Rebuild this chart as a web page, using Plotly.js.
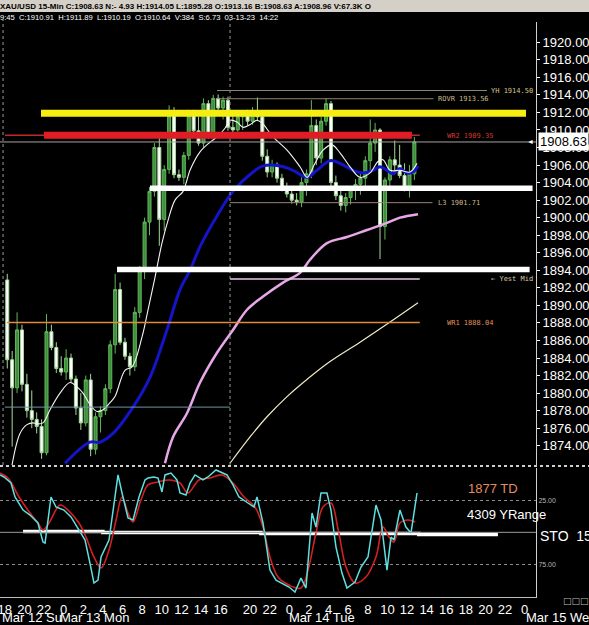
<!DOCTYPE html>
<html><head><meta charset="utf-8">
<script src="https://cdn.plot.ly/plotly-3.0.1.min.js"></script>
<style>html,body{margin:0;padding:0;background:#000;}#chart{width:589px;height:625px;}</style>
</head><body><div id="chart"></div>
<script>
// ---- candles: hours of trading time since Sun 18:00 (30-min bars)
const barHour = [0.25,0.75,1.25,1.75,2.25,2.75,3.25,3.75,4.25,4.75,5.25,5.75,6.25,6.75,7.25,7.75,8.25,8.75,9.25,9.75,10.25,10.75,11.25,11.75,12.25,12.75,13.25,13.75,14.25,14.75,15.25,15.75,16.25,16.75,17.25,17.75,18.25,18.75,19.25,19.75,20.25,20.75,21.25,21.75,22.25,22.75,23.25,23.75,24.25,24.75,25.25,25.75,26.25,26.75,27.25,27.75,28.25,28.75,29.25,29.75,30.25,30.75,31.25,31.75,32.25,32.75,33.25,33.75,34.25,34.75,35.25,35.75,36.25,36.75,37.25,37.75,38.25,38.75,39.25,39.75,40.25,40.75,41.25,41.75];
const openP = [1892.9,1883.8,1880.6,1887.2,1881.0,1878.0,1877.0,1876.2,1873.2,1887.0,1885.2,1882.8,1882.4,1884.0,1881.6,1878.3,1876.6,1881.5,1873.6,1877.3,1878.0,1880.5,1885.5,1891.8,1885.8,1884.2,1883.0,1889.2,1894.0,1899.5,1903.0,1908.0,1899.8,1905.5,1911.6,1904.9,1904.6,1907.1,1911.6,1909.9,1908.5,1913.0,1909.4,1913.6,1912.5,1913.4,1910.3,1910.0,1911.5,1911.8,1911.0,1912.2,1911.5,1907.0,1905.2,1906.0,1904.5,1903.4,1902.7,1902.0,1901.8,1904.0,1905.0,1910.5,1906.8,1911.0,1913.0,1904.0,1902.5,1901.4,1902.3,1903.2,1903.8,1904.5,1906.5,1908.5,1910.0,1899.0,1904.3,1906.6,1906.0,1904.8,1903.5,1905.0];
const highP = [1893.6,1884.8,1889.2,1887.8,1882.2,1880.3,1877.8,1877.0,1889.0,1887.8,1885.8,1884.2,1885.0,1884.5,1882.0,1880.0,1882.0,1882.2,1877.8,1878.5,1881.0,1886.0,1893.6,1892.6,1886.3,1884.6,1889.8,1894.5,1900.0,1903.5,1908.5,1909.5,1906.0,1912.8,1912.6,1905.5,1907.5,1912.3,1912.3,1911.5,1913.6,1913.4,1914.0,1914.05,1913.8,1913.8,1911.8,1912.0,1912.2,1912.3,1912.6,1913.7,1912.2,1907.8,1906.6,1906.3,1905.0,1904.0,1903.5,1902.8,1904.6,1905.5,1913.4,1911.2,1911.5,1913.6,1913.3,1904.8,1903.3,1902.8,1903.6,1904.4,1905.0,1907.0,1911.2,1910.8,1910.2,1904.6,1907.0,1908.8,1908.3,1906.2,1906.0,1909.2];
const lowP = [1882.8,1873.9,1880.0,1880.2,1877.2,1876.0,1875.4,1872.5,1872.9,1884.9,1882.3,1882.0,1881.5,1881.2,1877.5,1875.8,1876.2,1872.8,1873.0,1875.5,1877.5,1880.0,1884.5,1885.5,1883.8,1882.0,1882.5,1888.6,1893.0,1898.0,1902.4,1896.8,1898.5,1905.0,1904.5,1904.2,1903.8,1906.6,1909.6,1908.2,1908.0,1909.0,1909.0,1912.2,1911.2,1909.9,1909.6,1909.8,1910.0,1910.5,1910.6,1911.0,1906.5,1904.6,1904.6,1904.0,1903.0,1902.3,1901.6,1901.4,1901.2,1902.5,1904.5,1906.0,1906.2,1910.5,1903.5,1902.0,1900.8,1900.6,1901.5,1902.0,1902.6,1903.5,1905.4,1907.5,1895.28,1897.5,1903.5,1905.2,1904.5,1903.0,1902.3,1904.3];
const closeP = [1883.8,1880.6,1887.2,1881.0,1878.0,1877.0,1876.2,1873.2,1887.0,1885.2,1882.8,1882.4,1884.0,1881.6,1878.3,1876.6,1881.5,1873.6,1877.3,1878.0,1880.5,1885.5,1891.8,1885.8,1884.2,1883.0,1889.2,1894.0,1899.5,1903.0,1908.0,1899.8,1905.5,1911.6,1904.9,1904.6,1907.1,1911.6,1909.9,1908.5,1913.0,1909.4,1913.6,1912.5,1913.4,1910.3,1910.0,1911.5,1911.8,1911.0,1912.2,1911.5,1907.0,1905.2,1906.0,1904.5,1903.4,1902.7,1902.0,1901.8,1904.0,1905.0,1910.5,1906.8,1911.0,1913.0,1904.0,1902.5,1901.4,1902.3,1903.2,1903.8,1904.5,1906.5,1908.5,1910.0,1899.0,1904.3,1906.6,1906.0,1904.8,1903.5,1905.0,1908.63];

// ---- moving averages
const ma1H = [0.72,1.55,2.26,2.87,3.28,3.89,4.61,5.63,6.65,7.36,7.97,8.68,9.40,10.01,10.72,11.23,12.25,12.97,13.99,14.60,15.31,16.02,16.64,17.35,18.17,18.57,18.88,19.90,20.92,21.63,22.45,22.96,23.67,24.28,24.99,25.70,26.22,27.34,28.77,30.09,30.81,31.62,32.44,33.35,34.17,35.19,36.21,37.23,38.04,38.55,39.27,40.28,41.30,42.02];
const ma1P = [1871.7,1875.4,1876.4,1876.6,1876.5,1876.6,1878.1,1880.0,1881.2,1880.7,1880.0,1878.7,1877.9,1878.1,1878.9,1879.6,1882.6,1883.0,1886.4,1889.5,1893.2,1897.1,1899.7,1902.0,1903.0,1904.3,1905.4,1907.5,1908.6,1909.2,1910.2,1911.1,1910.9,1910.3,1910.6,1911.1,1910.8,1909.2,1907.7,1905.8,1904.6,1906.2,1907.7,1908.3,1907.4,1905.8,1904.6,1905.1,1906.4,1906.6,1905.4,1905.4,1905.2,1906.2];
const ma2H = [6.14,8.68,9.70,11.03,13.07,14.80,16.53,17.86,18.88,19.90,21.63,23.26,25.30,26.32,28.05,29.38,30.81,31.82,33.15,34.17,35.49,36.51,37.53,38.25,38.96,39.57,40.28,41.00,41.61,42.12];
const ma2P = [1872.0,1874.4,1874.4,1875.4,1878.4,1881.8,1887.2,1891.8,1894.0,1896.7,1900.2,1903.0,1905.2,1905.9,1905.9,1905.4,1904.6,1905.4,1906.5,1906.2,1905.4,1905.1,1905.4,1905.8,1905.4,1905.0,1905.6,1905.1,1905.2,1905.9];
const ma3H = [16.33,17.15,18.57,19.90,21.63,23.26,24.69,26.32,28.36,30.09,31.11,32.84,34.88,36.92,38.96,40.28,42.12];
const ma3P = [1872.0,1875.0,1877.7,1881.2,1884.6,1887.2,1889.5,1891.0,1892.6,1893.7,1895.2,1897.1,1897.8,1898.6,1899.4,1900.0,1900.4];
const ma4H = [22.96,25.00,26.73,28.77,30.09,33.15,36.21,39.27,42.12];
const ma4P = [1872.0,1875.0,1877.3,1879.6,1880.9,1883.6,1885.8,1888.1,1890.3];

// ---- stochastic (%K cyan, %D red)
const stoKH = [-0.49,-0.08,0.63,1.04,1.86,2.57,3.38,3.89,4.10,4.51,4.71,5.22,6.03,6.75,7.56,8.18,8.68,9.09,9.50,9.81,10.62,11.03,11.54,11.95,12.56,13.07,13.68,14.29,14.60,15.21,15.62,16.02,16.33,16.94,17.55,17.86,18.47,18.88,19.39,20.20,20.71,21.53,22.14,22.65,23.26,23.87,24.79,25.40,25.71,26.32,26.73,27.03,27.65,28.26,28.97,29.58,30.19,30.70,31.32,31.72,32.23,32.84,33.25,33.76,34.37,34.88,35.70,36.31,37.02,37.84,38.35,38.96,39.37,39.67,40.28,40.89,41.41,42.02];
const stoKV = [5.2,6.8,11.5,22.4,32.6,36.5,42.7,57.6,58.4,34.9,22.4,30.2,32.6,38.0,48.2,56.0,74.0,89.6,87.3,69.3,56.0,32.6,5.2,19.3,38.8,40.4,22.4,9.1,7.6,6.8,7.6,18.5,5.2,3.7,9.1,19.3,20.9,11.5,5.2,9.1,6.8,1.3,3.7,5.2,13.0,22.4,27.1,30.2,22.4,42.7,63.8,79.5,87.3,89.6,92.7,96.6,85.7,93.5,34.9,45.9,19.3,19.3,32.6,61.5,81.8,93.5,88.8,77.1,69.3,28.7,40.4,79.5,53.7,56.0,32.6,45.9,50.5,19.3];
const stoDH = [-0.49,0.33,1.45,2.57,3.38,3.89,4.51,5.63,6.44,7.56,8.28,9.09,9.81,10.62,11.34,11.95,12.56,13.07,13.88,14.60,15.62,16.74,17.86,18.67,19.79,20.92,22.14,23.26,24.38,25.50,26.32,27.03,27.85,28.97,30.19,30.91,31.72,32.44,33.25,33.99,34.78,35.70,36.82,37.84,38.55,39.16,39.67,40.28,41.10,41.82];
const stoDV = [3.7,7.6,22.4,34.9,42.7,48.2,42.7,28.7,32.6,42.7,53.7,69.3,77.9,63.8,40.4,22.4,34.9,41.9,24.8,13.0,10.7,9.1,11.5,19.3,9.1,7.6,5.2,11.5,22.4,30.2,45.9,69.3,84.9,91.2,93.5,79.5,50.5,30.2,27.1,48.2,77.1,89.6,84.9,69.3,45.9,53.7,57.6,42.7,40.4,41.9];
const stoRefH = [1.86,10.0,26.1,42.2,50.27];
const stoRefV = [49.4,50.2,51.0,51.6,51.6];

// ---- price levels
const bandNames = ['yellow','redThick','white1','white2'];
const bandPrice = [1911.9,1909.4,1903.35,1894.1];
const bandStart = [3.69,4.0,14.8,11.44];
const bandEnd = [53.13,41.5,53.8,53.5];
const levelNames = ['YH','ROVR','L3','YestMid','WR1','teal','WR2thin','last'];
const levelPrice = [1914.5,1913.56,1901.71,1893.0,1888.04,1878.4,1909.4,1908.63];
const levelStart = [21.63,21.63,22.96,22.96,0.22,0.0,0.02,-0.49];
const levelEnd = [49.15,43.7,43.6,42.3,42.3,22.96,42.3,54.15];
const tagText = ['YH 1914.50','ROVR 1913.56','WR2 1909.35','L3 1901.71','\u2190 Yest Mid','WR1 1888.04'];
const tagPrice = [1914.5,1913.56,1909.35,1901.71,1893.0,1888.04];
const tagHour = [49.36,43.95,44.87,43.95,49.36,44.87];
const sessionHours = [-0.18,22.96];

// ---- axis labels
const priceTicks = [1874,1876,1878,1880,1882,1884,1886,1888,1890,1892,1894,1896,1898,1900,1902,1904,1906,1908,1910,1912,1914,1916,1918,1920];
const tickHours = [0,2,4,6,8,10,12,14,16,18,20,22,25,27,29,31,33,35,37,39,41,43,45,47,49,51,53];
const tickText = ['18','20','22','0','2','4','6','8','10','12','14','16','20','22','0','2','4','6','8','10','12','14','16','18','20','22','0'];
const dayLabels = ['Mar 12 Su','Mar 13 Mon','Mar 14 Tue','Mar 15 Wed'];
const dayHours = [-0.49,5.42,28.8,52.9];
const headerLine1 = 'XAU/USD 15-Min C:1908.63 N:- 4.93 H:1914.05 L:1895.28 O:1913.16 B:1908.63 A:1908.96 V:67.3K O';
const headerLine2 = '9:45  C:1910.91  H:1911.89  L:1910.19  O:1910.64  V:384  S:6.73  03-13-23  14:22';
const lastPrice = 1908.63;

// ---- geometry helpers (pixel -> paper)
const PLOT_TOP = 22, PLOT_BOT = 597, PLOT_W = 536;
const py = y => (PLOT_BOT - y) / (PLOT_BOT - PLOT_TOP);
const px = x => x / PLOT_W;
const FONT = 'Liberation Sans, Arial, sans-serif';

const traces = [];
traces.push({type:'candlestick', x:barHour, open:openP, high:highP, low:lowP, close:closeP,
  xaxis:'x', yaxis:'y', whiskerwidth:0, hoverinfo:'skip',
  increasing:{line:{color:'#62b85a', width:1}, fillcolor:'#3d8e3a'},
  decreasing:{line:{color:'#a6d89c', width:1}, fillcolor:'#ffffff'}});
traces.push({type:'scatter', mode:'lines', x:ma4H, y:ma4P, xaxis:'x', yaxis:'y', line:{color:'#f2ecc4', width:1.2, shape:'spline'}});
traces.push({type:'scatter', mode:'lines', x:ma3H, y:ma3P, xaxis:'x', yaxis:'y', line:{color:'#e8a8e8', width:2.5, shape:'spline'}});
traces.push({type:'scatter', mode:'lines', x:ma2H, y:ma2P, xaxis:'x', yaxis:'y', line:{color:'#1414c8', width:3, shape:'spline'}});
traces.push({type:'scatter', mode:'lines', x:ma1H, y:ma1P, xaxis:'x', yaxis:'y', line:{color:'#f4f4f4', width:1.1, shape:'spline'}});
// stochastic
traces.push({type:'scatter', mode:'lines', x:stoRefH, y:stoRefV, xaxis:'x', yaxis:'y2', line:{color:'#ffffff', width:3.5, shape:'hv'}});
traces.push({type:'scatter', mode:'lines', x:stoDH, y:stoDV, xaxis:'x', yaxis:'y2', line:{color:'#d42020', width:1.6, shape:'spline'}});
traces.push({type:'scatter', mode:'lines', x:stoKH, y:stoKV, xaxis:'x', yaxis:'y2', line:{color:'#5fe0e0', width:1.5}});

const shapes = [];
shapes.push({type:'rect', xref:'paper', yref:'paper', x0:-0.01, x1:1.2, y0:py(12), y1:py(-2), fillcolor:'#d4d0c8', line:{width:0}, layer:'above'});
shapes.push({type:'line', xref:'paper', yref:'paper', x0:0, x1:1.2, y0:py(466), y1:py(466), line:{color:'#cfcfcf', width:2, dash:'dot'}});
shapes.push({type:'line', xref:'paper', yref:'y2', x0:0, x1:1, y0:50, y1:50, line:{color:'#9a9a9a', width:1}});
sessionHours.forEach(h => shapes.push({type:'line', xref:'x', yref:'paper', x0:h, x1:h, y0:py(465), y1:py(20), line:{color:'#9a9a9a', width:1, dash:'dot'}}));
const levelColor = {YH:'#8e8474', ROVR:'#8e8474', L3:'#9a8478', YestMid:'#e8c6e8', WR1:'#e08a40', teal:'#6c96a6', WR2thin:'#c02828', last:'#a8a4a0'};
levelNames.forEach((n,i) => shapes.push({type:'line', xref:'x', yref:'y', x0:levelStart[i], x1:levelEnd[i], y0:levelPrice[i], y1:levelPrice[i],
  line:{color:levelColor[n], width:(n==='WR1'||n==='YestMid'||n==='WR2thin')?1.6:1}}));
const bandColor = {yellow:'#f5ee10', redThick:'#e01c24', white1:'#ffffff', white2:'#ffffff'};
const bandWidth = {yellow:7, redThick:7, white1:5.5, white2:5.5};
bandNames.forEach((n,i) => shapes.push({type:'line', xref:'x', yref:'y', x0:bandStart[i], x1:bandEnd[i], y0:bandPrice[i], y1:bandPrice[i],
  line:{color:bandColor[n], width:bandWidth[n]}}));

const annotations = [];
const tagColor = ['#d6c68a','#cdb98e','#d23a30','#cdb98e','#dccaa4','#e0925a'];
tagText.forEach((t,i) => annotations.push({xref:'x', yref:'y', x:tagHour[i], y:tagPrice[i], text:t, showarrow:false, xanchor:'left', yanchor:'middle',
  font:{family:'DejaVu Sans Mono, monospace', size:7, color:tagColor[i]}}));
dayLabels.forEach((t,i) => annotations.push({xref:'x', yref:'paper', x:dayHours[i], y:py(617), text:t, showarrow:false,
  xanchor:'left', yanchor:'middle', font:{family:FONT, size:13, color:'#ffffff'}}));
annotations.push({xref:'paper', yref:'paper', x:px(-2), y:py(6), text:headerLine1, showarrow:false, xanchor:'left', yanchor:'middle',
  font:{family:FONT, size:8, color:'#000000', weight:'bold'}});
annotations.push({xref:'paper', yref:'paper', x:px(-2), y:py(17.5), text:headerLine2, showarrow:false, xanchor:'left', yanchor:'middle',
  font:{family:FONT, size:7.6, color:'#ffffff'}});
annotations.push({xref:'paper', yref:'y', x:px(538), y:lastPrice, text:lastPrice.toFixed(2), showarrow:false, xanchor:'left', yanchor:'middle',
  bgcolor:'#ffffff', borderpad:1, font:{family:FONT, size:13, color:'#000000'}});
annotations.push({xref:'paper', yref:'y', x:px(530), y:lastPrice, text:'\u25C4', showarrow:false, xanchor:'center', yanchor:'middle',
  font:{family:FONT, size:7, color:'#ffffff'}});
annotations.push({xref:'paper', yref:'paper', x:px(466), y:py(488), text:'1877 TD', showarrow:false, xanchor:'left', yanchor:'middle',
  font:{family:FONT, size:13, color:'#e38c62'}});
annotations.push({xref:'paper', yref:'paper', x:px(465), y:py(514), text:'4309 YRange', showarrow:false, xanchor:'left', yanchor:'middle',
  font:{family:FONT, size:13, color:'#ffffff'}});
annotations.push({xref:'paper', yref:'paper', x:px(538), y:py(536), text:'STO  15,3,3', showarrow:false, xanchor:'left', yanchor:'middle',
  font:{family:FONT, size:14, color:'#ffffff'}});
annotations.push({xref:'paper', yref:'paper', x:px(576), y:py(601), text:'\u25A1\u25A1\u25A1', showarrow:false, xanchor:'center', yanchor:'middle',
  font:{family:'DejaVu Sans, sans-serif', size:9, color:'#bdbdbd'}});

const layout = {
  width:589, height:625, paper_bgcolor:'#000000', plot_bgcolor:'#000000',
  margin:{l:0, r:53, t:22, b:28, pad:0}, showlegend:false, hovermode:false,
  font:{family:FONT, color:'#ffffff'}, boxgap:0.12,
  xaxis:{anchor:'y2', domain:[0,1], range:[-0.49,54.15], tickmode:'array', tickvals:tickHours, ticktext:tickText,
    tickfont:{family:FONT, size:13, color:'#ffffff'}, ticks:'', ticklabeloverflow:'allow', showgrid:false, zeroline:false,
    showline:true, linecolor:'#bdbdbd', linewidth:1, rangeslider:{visible:false}, fixedrange:true},
  yaxis:{anchor:'x', domain:[py(465),1], range:[1871.8,1922.31], side:'right', tickmode:'array', tickvals:priceTicks, tickformat:'.2f',
    tickfont:{family:FONT, size:13, color:'#ffffff'}, ticks:'outside', ticklen:3, tickcolor:'#ffffff',
    showgrid:false, zeroline:false, showline:true, linecolor:'#cfcfcf', linewidth:1, fixedrange:true},
  yaxis2:{anchor:'x', domain:[0,py(468)], range:[100.5,-0.23], side:'right', tickmode:'array', tickvals:[25,75], ticktext:['25.00','75.00'],
    tickfont:{family:FONT, size:7, color:'#b4b4b4'}, ticks:'', showgrid:true, gridcolor:'#8c8c8c', griddash:'dot', gridwidth:1,
    zeroline:false, showline:true, linecolor:'#cfcfcf', linewidth:1, fixedrange:true},
  shapes:shapes, annotations:annotations
};
Plotly.newPlot('chart', traces, layout, {staticPlot:true, displayModeBar:false});
</script></body></html>
